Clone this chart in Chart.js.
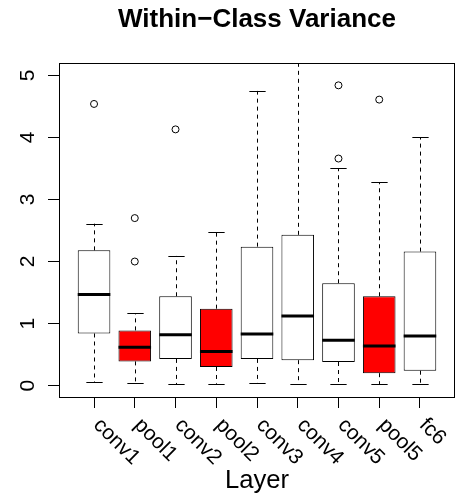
<!DOCTYPE html>
<html>
<head>
<meta charset="utf-8">
<script src="https://cdn.jsdelivr.net/npm/chart.js@4.4.1/dist/chart.umd.min.js"></script>
<style>
  html, body { margin: 0; padding: 0; background: #ffffff; }
</style>
</head>
<body>
<canvas id="variance-chart" width="460" height="494"></canvas>
<script>
// Box statistics per layer
const layers = ["conv1", "pool1", "conv2", "pool2", "conv3", "conv4", "conv5", "pool5", "fc6"];
const isPool = [false, true, false, true, false, false, false, true, false];
const whiskerLow = [0.05, 0.04, 0.02, 0.03, 0.04, 0.03, 0.03, 0.02, 0.02];
const lowerQuartile = [0.84, 0.39, 0.43, 0.30, 0.43, 0.41, 0.38, 0.20, 0.24];
const medians = [1.47, 0.62, 0.82, 0.55, 0.83, 1.12, 0.73, 0.64, 0.80];
const upperQuartile = [2.18, 0.89, 1.44, 1.24, 2.24, 2.43, 1.65, 1.44, 2.16];
const whiskerHigh = [2.61, 1.17, 2.09, 2.48, 4.75, 5.60, 3.50, 3.28, 4.00];

// Outliers: layer position (1-based) and value
const outlierLayer = [1, 2, 2, 3, 7, 7, 8];
const outlierValue = [4.54, 2.70, 2.00, 4.13, 4.84, 3.66, 4.61];

const yTicks = [0, 1, 2, 3, 4, 5];

const FONT = '"Liberation Sans", Arial, Helvetica, sans-serif';

// Whiskers, medians, frame and rotated tick labels (R style)
const boxplotParts = {
  id: "boxplotParts",
  beforeDatasetsDraw(chart)
  {
    const { ctx, chartArea, scales: { x, y } } = chart;
    ctx.save();
    ctx.beginPath();
    ctx.rect(chartArea.left, chartArea.top, chartArea.width, chartArea.height);
    ctx.clip();
    ctx.strokeStyle = "#000000";
    ctx.lineWidth = 1;
    layers.forEach((name, i) =>
    {
      const cx = Math.round(x.getPixelForValue(i + 1)) + 0.5;
      const capHalf = x.getPixelForValue(i + 1.2) - x.getPixelForValue(i + 1);
      const yHi = y.getPixelForValue(whiskerHigh[i]);
      const yLo = y.getPixelForValue(whiskerLow[i]);

      ctx.setLineDash([4, 4]);
      ctx.beginPath();
      ctx.moveTo(cx, y.getPixelForValue(upperQuartile[i]));
      ctx.lineTo(cx, yHi);
      ctx.moveTo(cx, y.getPixelForValue(lowerQuartile[i]));
      ctx.lineTo(cx, yLo);
      ctx.stroke();

      ctx.setLineDash([]);
      ctx.beginPath();
      ctx.moveTo(cx - capHalf, Math.round(yHi) + 0.5);
      ctx.lineTo(cx + capHalf, Math.round(yHi) + 0.5);
      ctx.moveTo(cx - capHalf, Math.round(yLo) + 0.5);
      ctx.lineTo(cx + capHalf, Math.round(yLo) + 0.5);
      ctx.stroke();
    });
    ctx.restore();
  },
  afterDatasetsDraw(chart)
  {
    const { ctx, chartArea, scales: { x, y } } = chart;
    ctx.save();

    // medians
    ctx.strokeStyle = "#000000";
    ctx.lineWidth = 3;
    layers.forEach((name, i) =>
    {
      const my = y.getPixelForValue(medians[i]);
      ctx.beginPath();
      ctx.moveTo(x.getPixelForValue(i + 0.6), my);
      ctx.lineTo(x.getPixelForValue(i + 1.4), my);
      ctx.stroke();
    });

    // plot frame
    ctx.lineWidth = 1;
    ctx.strokeRect(chartArea.left + 0.5, chartArea.top + 0.5, chartArea.width - 1, chartArea.height - 1);

    // y tick labels, rotated
    ctx.fillStyle = "#000000";
    ctx.font = "21px " + FONT;
    ctx.textAlign = "center";
    ctx.textBaseline = "alphabetic";
    yTicks.forEach(v =>
    {
      ctx.save();
      ctx.translate(33.5, y.getPixelForValue(v));
      ctx.rotate(-Math.PI / 2);
      ctx.fillText(String(v), 0, 0);
      ctx.restore();
    });

    // x tick labels, rotated 45 degrees clockwise
    ctx.textAlign = "left";
    layers.forEach((name, i) =>
    {
      ctx.save();
      ctx.translate(x.getPixelForValue(i + 1) - 1.5, chartArea.bottom + 28);
      ctx.rotate(Math.PI / 4);
      ctx.fillText(name, 0, 0);
      ctx.restore();
    });

    ctx.restore();
  }
};

const ctx = document.getElementById("variance-chart");

new Chart(ctx,
  {
    type: "bar",
    data: {
      datasets: [
        {
          type: "bar",
          data: layers.map((name, i) => ({ x: i + 1, y: [lowerQuartile[i], upperQuartile[i]] })),
          backgroundColor: isPool.map(p => p ? "#ff0000" : "#ffffff"),
          borderColor: "#000000",
          borderWidth: 1,
          borderSkipped: false,
          categoryPercentage: 1,
          barPercentage: 0.8,
          grouped: false,
          order: 2
        },
        {
          type: "scatter",
          data: outlierLayer.map((pos, i) => ({ x: pos, y: outlierValue[i] })),
          pointRadius: 3.5,
          pointBackgroundColor: "rgba(0,0,0,0)",
          pointBorderColor: "#000000",
          pointBorderWidth: 1,
          showLine: false,
          order: 1
        }
      ]
    },
    options: {
      responsive: false,
      devicePixelRatio: 1,
      animation: false,
      events: [],
      layout: { padding: { left: 0, right: 2, top: 0, bottom: 0 } },
      plugins: {
        legend: { display: false },
        tooltip: { enabled: false },
        title: {
          display: true,
          fullSize: false,
          text: "Within\u2212Class Variance",
          color: "#000000",
          font: { family: FONT, size: 26, weight: "bold", lineHeight: 1.2 },
          padding: { top: 4.6, bottom: 27.2 }
        }
      },
      scales: {
        x: {
          type: "linear",
          min: 0.14,
          max: 9.86,
          offset: false,
          afterBuildTicks: s => { s.ticks = layers.map((name, i) => ({ value: i + 1 })); },
          afterFit: s => { s.height = 96; },
          ticks: { display: false },
          grid: { offset: false, drawOnChartArea: false, drawTicks: true, tickLength: 10, color: "#000000", lineWidth: 1 },
          border: { display: false },
          title: {
            display: true,
            text: "Layer",
            color: "#000000",
            font: { family: FONT, size: 25.6, lineHeight: 1 },
            padding: { top: 0, bottom: 0 }
          }
        },
        y: {
          type: "linear",
          min: -0.2,
          max: 5.2,
          afterBuildTicks: s => { s.ticks = yTicks.map(v => ({ value: v })); },
          afterFit: s => { s.width = 59; },
          ticks: { display: false },
          grid: { drawOnChartArea: false, drawTicks: true, tickLength: 11, color: "#000000", lineWidth: 1 },
          border: { display: false }
        }
      }
    },
    plugins: [boxplotParts]
  });
</script>
</body>
</html>
